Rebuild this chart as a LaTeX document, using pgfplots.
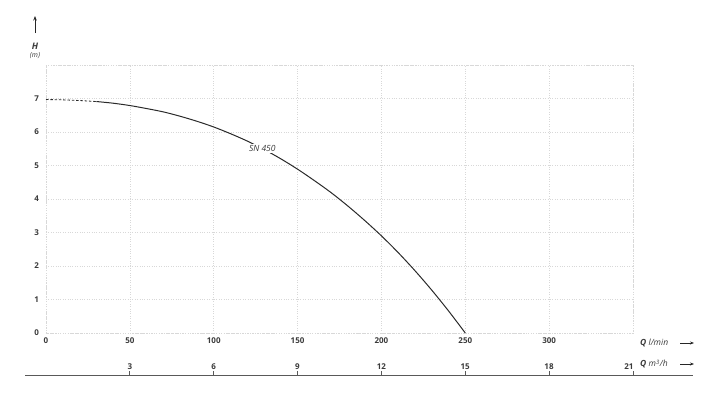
\documentclass[border=0pt]{standalone}
\usepackage{pgfplots}
\pgfplotsset{compat=1.18}
\usepackage{fontspec}
\setmainfont{Open Sans}
\usetikzlibrary{arrows.meta}
\definecolor{txt}{HTML}{3A3A3A}
\definecolor{gridc}{HTML}{D8D8D8}
\definecolor{curve}{HTML}{2A2A2A}
\begin{document}
\fontsize{8.5}{10}\selectfont
\begin{tikzpicture}[x=1pt,y=1pt]
\useasboundingbox (-46,-67) rectangle (669,333);
\begin{axis}[
  name=main,
  at={(0pt,0pt)}, anchor=south west,
  width=587pt, height=268pt, scale only axis,
  xmin=0, xmax=350, ymin=0, ymax=8,
  xtick={0,50,...,300}, ytick={0,1,...,7},
  extra x ticks={350}, extra x tick labels={},
  extra y ticks={8}, extra y tick labels={},
  grid=major,
  major grid style={gridc, dotted, line width=0.6pt},
  axis line style={gridc, dotted, line width=0.6pt},
  major tick length=0pt,
  tick label style={font=\fontsize{8}{10}\selectfont\bfseries, text=txt},
  xticklabel style={yshift=-2pt},
  yticklabel style={xshift=-4pt},
  /pgf/number format/assume math mode=true,
  clip=false,
]
\addplot[curve, line width=0.8pt, dash pattern=on 2.5pt off 1.8pt] coordinates {
 (0,6.97) (10,6.96) (20,6.94) (30,6.91)
};
\addplot[curve, line width=1pt, smooth] coordinates {
 (30,6.91) (40,6.86) (50,6.79) (60,6.70) (70,6.60) (80,6.47) (90,6.32)
 (100,6.15) (110,5.95) (120,5.73) (130,5.48) (140,5.20) (150,4.89)
 (160,4.55) (170,4.19) (180,3.79) (190,3.36) (200,2.90) (210,2.40)
 (220,1.86) (230,1.28) (240,0.66) (250,0)
};
\node[fill=white, inner sep=1.5pt, text=txt, font=\fontsize{8.5}{10}\selectfont\itshape]
  at (axis cs:129,5.5) {SN 450};
\end{axis}
\begin{axis}[
  at={(-21pt,-42pt)}, anchor=north west,
  width=668pt, height=5pt, scale only axis,
  xmin=-0.75, xmax=23.15, ymin=0, ymax=1,
  axis x line*=top,
  hide y axis,
  xtick={3,6,...,18},
  extra x ticks={21},
  extra x tick style={xticklabel style={xshift=-4pt}},
  tick align=outside,
  major tick length=4pt,
  x axis line style={-, draw=black!65, line width=0.8pt},
  tick style={draw=black!65, line width=0.8pt},
  tick label style={font=\fontsize{8}{10}\selectfont\bfseries, text=txt},
  xticklabel style={yshift=-2pt},
  /pgf/number format/assume math mode=true,
]
\addplot[draw=none] coordinates {(0,0) (21,0)};
\end{axis}
\draw[-{Stealth[length=4.5pt,width=3.5pt]}, black!85, line width=0.8pt] (-11,300) -- (-11,317);
\node[text=txt, font=\fontsize{9}{10}\selectfont\bfseries\itshape] at (-11,287) {H};
\node[text=txt, font=\fontsize{7}{8}\selectfont\itshape] at (-11,277) {(m)};
\node[anchor=west, text=txt, font=\fontsize{8.5}{10}\selectfont\itshape, inner sep=0pt] at (594,-10) {\textbf{Q} l/min};
\node[anchor=west, text=txt, font=\fontsize{8.5}{10}\selectfont\itshape, inner sep=0pt] at (594,-31) {\textbf{Q} m\textsuperscript{3}/h};
\draw[-{Stealth[length=4pt]}, black!85, line width=0.7pt] (634,-10) -- (648,-10);
\draw[-{Stealth[length=4pt]}, black!85, line width=0.7pt] (634,-31) -- (648,-31);
\end{tikzpicture}
\end{document}
